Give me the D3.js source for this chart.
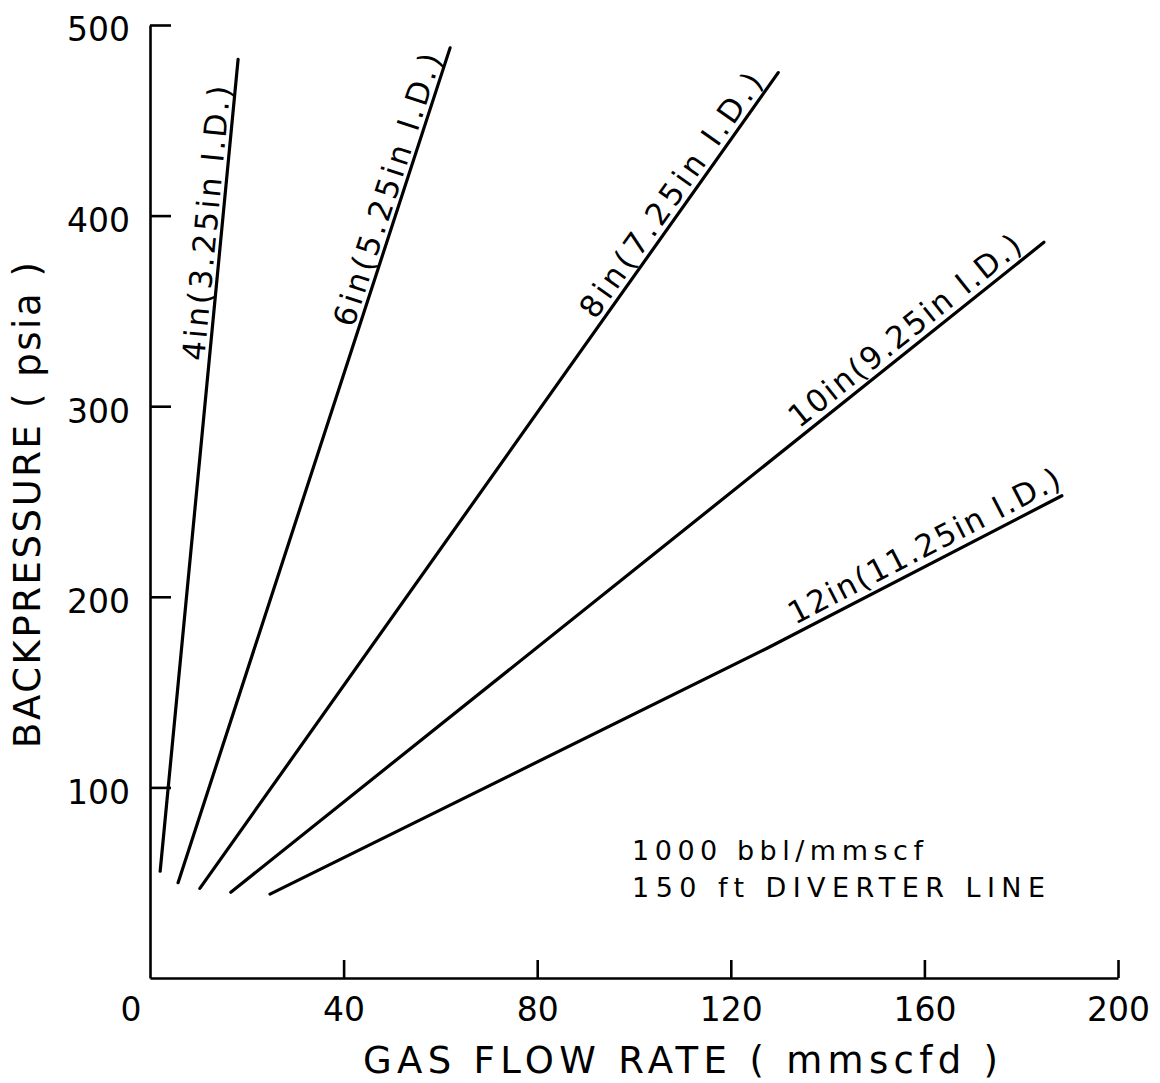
<!DOCTYPE html>
<html>
<head>
<meta charset="utf-8">
<script src="https://cdn.jsdelivr.net/npm/d3@7"></script>
<style>
  body { margin: 0; background: #fff; }
  svg { display: block; }
  text { font-family: "DejaVu Sans", sans-serif; fill: #000; }
</style>
</head>
<body>
<svg id="chart" width="1160" height="1083"></svg>
<script>
// Diverter line backpressure vs. gas flow rate, by pipe size
const pipeLabels = [
  "4in(3.25in I.D.)",
  "6in(5.25in I.D.)",
  "8in(7.25in I.D.)",
  "10in(9.25in I.D.)",
  "12in(11.25in I.D.)"
];
// gas flow rate, mmscfd
const flowRates = [
  [2.1, 18.2],
  [5.8, 62.0],
  [10.3, 129.8],
  [16.7, 184.7],
  [24.8, 127.5, 188.4]
];
// backpressure, psia
const backpressures = [
  [56, 482],
  [50, 488],
  [47, 475],
  [45, 386],
  [44, 173, 253]
];
const xTicks = [40, 80, 120, 160, 200];
const yTicks = [100, 200, 300, 400, 500];
const notes = ["1000 bbl/mmscf", "150 ft DIVERTER LINE"];

// where each pipe label starts along its line (flow rate), gap and drawn length
const labelPlacement = [
  { at: 12.2, gap: 5, length: 276 },
  { at: 43,   gap: 5, length: 285 },
  { at: 93,   gap: 6, length: 292 },
  { at: 135,  gap: 7, length: 288 },
  { at: 134,  gap: 8, length: 302 }
];

const svg = d3.select("#chart");
const x = d3.scaleLinear().domain([0, 200]).range([150, 1118]);
const y = d3.scaleLinear().domain([0, 500]).range([978, 25]);

// axes
const xAxis = d3.axisBottom(x).tickValues(xTicks).tickSizeInner(-18).tickSizeOuter(0).tickPadding(20);
const yAxis = d3.axisLeft(y).tickValues(yTicks).tickSizeInner(-21).tickSizeOuter(0).tickPadding(20);

const gx = svg.append("g").attr("transform", `translate(0,${y(0)})`).call(xAxis);
const gy = svg.append("g").attr("transform", `translate(${x(0)},0)`).call(yAxis);
[gx, gy].forEach(g => {
  g.select(".domain").attr("stroke", "#000").attr("stroke-width", 2.6);
  g.selectAll(".tick line").attr("stroke", "#000").attr("stroke-width", 2.6);
  g.selectAll(".tick text").attr("font-size", 33).attr("font-family", "DejaVu Sans").attr("fill", "#000");
});
gy.selectAll(".tick text").attr("dy", "0.48em");

svg.append("text")
  .attr("x", x(0) - 19).attr("y", y(0) + 43)
  .attr("text-anchor", "middle").attr("font-size", 33)
  .text("0");

// axis titles
svg.append("text")
  .attr("x", 363).attr("y", 1073)
  .attr("font-size", 37)
  .attr("textLength", 635).attr("lengthAdjust", "spacing")
  .text("GAS FLOW RATE ( mmscfd )");

svg.append("text")
  .attr("transform", "translate(40,748) rotate(-90)")
  .attr("font-size", 37)
  .attr("textLength", 486).attr("lengthAdjust", "spacing")
  .text("BACKPRESSURE ( psia )");

// pipe curves
const line = d3.line().x(d => x(d[0])).y(d => y(d[1]));
const series = pipeLabels.map((name, i) => ({
  name,
  points: flowRates[i].map((f, j) => [f, backpressures[i][j]])
}));

svg.append("g").selectAll("path")
  .data(series)
  .join("path")
  .attr("d", d => line(d.points))
  .attr("fill", "none")
  .attr("stroke", "#000")
  .attr("stroke-width", 3.2)
  .attr("stroke-linecap", "round");

// labels set along each line
series.forEach((s, i) => {
  const p = labelPlacement[i];
  const pts = s.points;
  let k = 0;
  while (k < pts.length - 2 && pts[k + 1][0] < p.at) k++;
  const a = pts[k], b = pts[k + 1];
  const t = (p.at - a[0]) / (b[0] - a[0]);
  const px = x(p.at), py = y(a[1] + t * (b[1] - a[1]));
  const theta = Math.atan2(y(b[1]) - y(a[1]), x(b[0]) - x(a[0]));
  const ux = Math.sin(theta), uy = -Math.cos(theta);
  svg.append("text")
    .attr("transform", `translate(${px + ux * p.gap},${py + uy * p.gap}) rotate(${theta * 180 / Math.PI})`)
    .attr("font-size", 31)
    .attr("textLength", p.length).attr("lengthAdjust", "spacing")
    .text(s.name);
});

// conditions note
svg.append("text")
  .attr("x", 632).attr("y", 860)
  .attr("font-size", 27)
  .attr("textLength", 291).attr("lengthAdjust", "spacing")
  .text(notes[0]);
svg.append("text")
  .attr("x", 632).attr("y", 897)
  .attr("font-size", 27)
  .attr("textLength", 413).attr("lengthAdjust", "spacing")
  .text(notes[1]);
</script>
</body>
</html>
